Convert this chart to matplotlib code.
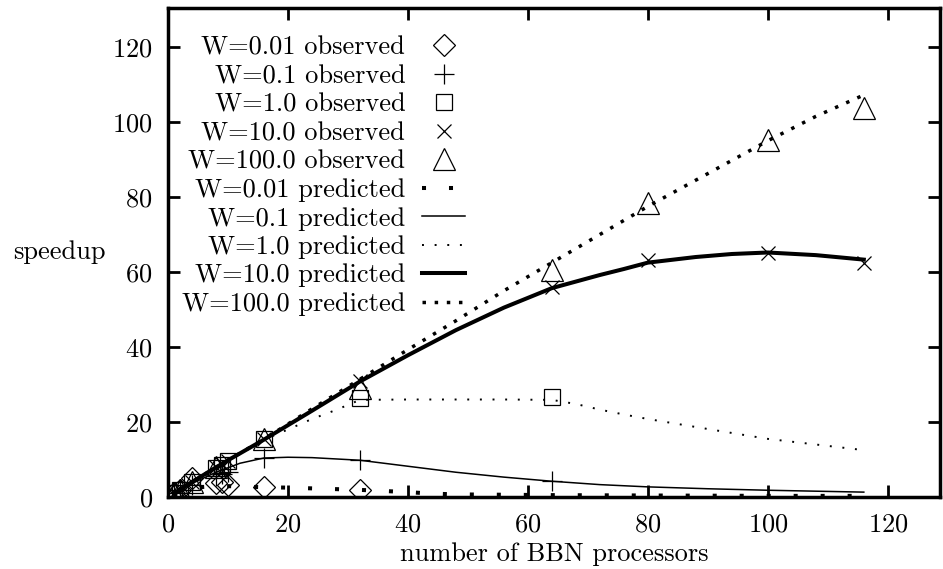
import matplotlib
matplotlib.use("Agg")
import matplotlib.pyplot as plt

plt.rcParams['font.family'] = ['cmr10', 'DejaVu Serif']
plt.rcParams['mathtext.fontset'] = 'cm'
plt.rcParams['axes.formatter.use_mathtext'] = True

# observed speedups
obs_x_001 = [1, 2, 4, 8, 9, 10, 16, 32]
obs_y_001 = [1, 1.8, 5, 3.7, 4, 3.3, 2.7, 1.9]
obs_x_01 = [1, 2, 4, 8, 9, 10, 16, 32, 64]
obs_y_01 = [1, 1.9, 3.2, 5.5, 6.2, 6.8, 10.5, 9.8, 4.3]
obs_x_1 = [1, 2, 4, 8, 9, 10, 16, 32, 64]
obs_y_1 = [1, 2, 4, 7.8, 8.6, 9.6, 15.5, 26.4, 26.8]
obs_x_10 = [1, 2, 4, 8, 9, 10, 16, 32, 64, 80, 100, 116]
obs_y_10 = [1, 2, 4, 7.9, 8.8, 9.7, 15.5, 31, 56, 63.2, 65.2, 62.4]
obs_x_100 = [1, 2, 4, 8, 16, 32, 64, 80, 100, 116]
obs_y_100 = [1, 2, 4, 8, 15.5, 29, 60.5, 78.4, 95.2, 103.7]

# predicted speedups
pred_x_001 = [1, 2, 4, 6, 8, 10, 12, 16, 20, 24, 28, 32, 36, 40, 44, 48, 64, 80, 100, 116]
pred_y_001 = [1, 1.6, 2.4, 2.7, 2.9, 2.9, 2.8, 2.6, 2.5, 2.3, 2.1, 1.9, 1.6, 1.3, 0.9, 0.7, 0.5, 0.4, 0.3, 0.3]
pred_x_01 = [1, 2, 4, 8, 10, 12, 16, 20, 24, 32, 40, 48, 56, 64, 72, 80, 90, 100, 116]
pred_y_01 = [1, 1.9, 3.6, 6.6, 7.8, 9, 10.4, 10.6, 10.5, 9.8, 8.2, 6.6, 5.3, 4.2, 3.3, 2.7, 2.2, 1.8, 1.3]
pred_x_1 = [1, 2, 4, 8, 10, 16, 20, 24, 28, 32, 40, 48, 56, 64, 68, 72, 76, 80, 86, 92, 100, 108, 116]
pred_y_1 = [1, 2, 4, 7.9, 9.8, 15.3, 18, 20.8, 23.2, 25.9, 26, 26, 26, 25.9, 24.8, 23.3, 22, 20.8, 19.2, 17.6, 15.5, 14, 12.5]
pred_x_10 = [1, 2, 4, 8, 10, 16, 24, 32, 40, 48, 56, 64, 72, 76, 80, 88, 94, 100, 108, 116]
pred_y_10 = [1, 2, 4, 7.9, 9.8, 15.3, 23, 30.8, 37.8, 44.5, 50.5, 55.7, 59.2, 60.8, 62.5, 64, 64.8, 65.2, 64.5, 63.3]
pred_x_100 = [1, 2, 4, 8, 10, 16, 24, 32, 40, 48, 56, 64, 72, 80, 88, 100, 108, 116]
pred_y_100 = [1, 2, 4, 7.9, 9.8, 15.4, 23.5, 31.4, 39.3, 47, 55, 62.5, 70, 77.5, 84.5, 95, 101.5, 107.2]

fs = 19

fig = plt.figure(figsize=(9.43, 5.69), dpi=100)
ax = fig.add_axes([168 / 943, 1 - 497 / 569, (940 - 168) / 943, (497 - 8) / 569])

mk = dict(linestyle='none', markerfacecolor='none', markeredgecolor='k', markeredgewidth=0.9)
h1, = ax.plot(obs_x_001, obs_y_001, marker='D', markersize=11, label='W=0.01 observed', **mk)
h2, = ax.plot(obs_x_01, obs_y_01, marker='+', markersize=14, label='W=0.1 observed', **mk)
h3, = ax.plot(obs_x_1, obs_y_1, marker='s', markersize=11.5, label='W=1.0 observed', **mk)
h4, = ax.plot(obs_x_10, obs_y_10, marker='x', markersize=10, label='W=10.0 observed', **mk)
h5, = ax.plot(obs_x_100, obs_y_100, marker='^', markersize=16, label='W=100.0 observed', **mk)

h6, = ax.plot(pred_x_001, pred_y_001, color='k', lw=2.9, linestyle=(0, (1, 5.7)), label='W=0.01 predicted')
h7, = ax.plot(pred_x_01, pred_y_01, color='k', lw=1.1, label='W=0.1 predicted')
h8, = ax.plot(pred_x_1, pred_y_1, color='k', lw=1.4, linestyle=(0, (1, 5.5)), label='W=1.0 predicted')
h9, = ax.plot(pred_x_10, pred_y_10, color='k', lw=2.9, label='W=10.0 predicted')
h10, = ax.plot(pred_x_100, pred_y_100, color='k', lw=2.5, linestyle=(0, (1, 2.5)), label='W=100.0 predicted')

ax.set_xlim(0, 128.7)
ax.set_ylim(0, 130.4)
ax.set_xticks([0, 20, 40, 60, 80, 100, 120])
ax.set_yticks([0, 20, 40, 60, 80, 100, 120])
ax.tick_params(direction='in', length=8.5, width=2, labelsize=fs, pad=11,
               top=True, right=True)
for s in ax.spines.values():
    s.set_linewidth(2.5)

ax.set_xlabel('number of BBN processors', fontsize=fs, va='center')
ax.xaxis.set_label_coords(0.5, -0.116)
ax.set_ylabel('speedup', fontsize=fs, rotation=0, va='center', ha='center')
ax.yaxis.set_label_coords(-0.141, 0.5)

ax.legend(handles=[h1, h2, h3, h4, h5, h6, h7, h8, h9, h10],
          loc='upper right', bbox_to_anchor=(0.385, 0.943), frameon=False,
          markerfirst=False, borderpad=0, borderaxespad=0, handlelength=1.63,
          handletextpad=0.64, labelspacing=0.18, numpoints=1, fontsize=fs)

fig.savefig('out.png', dpi=100)
